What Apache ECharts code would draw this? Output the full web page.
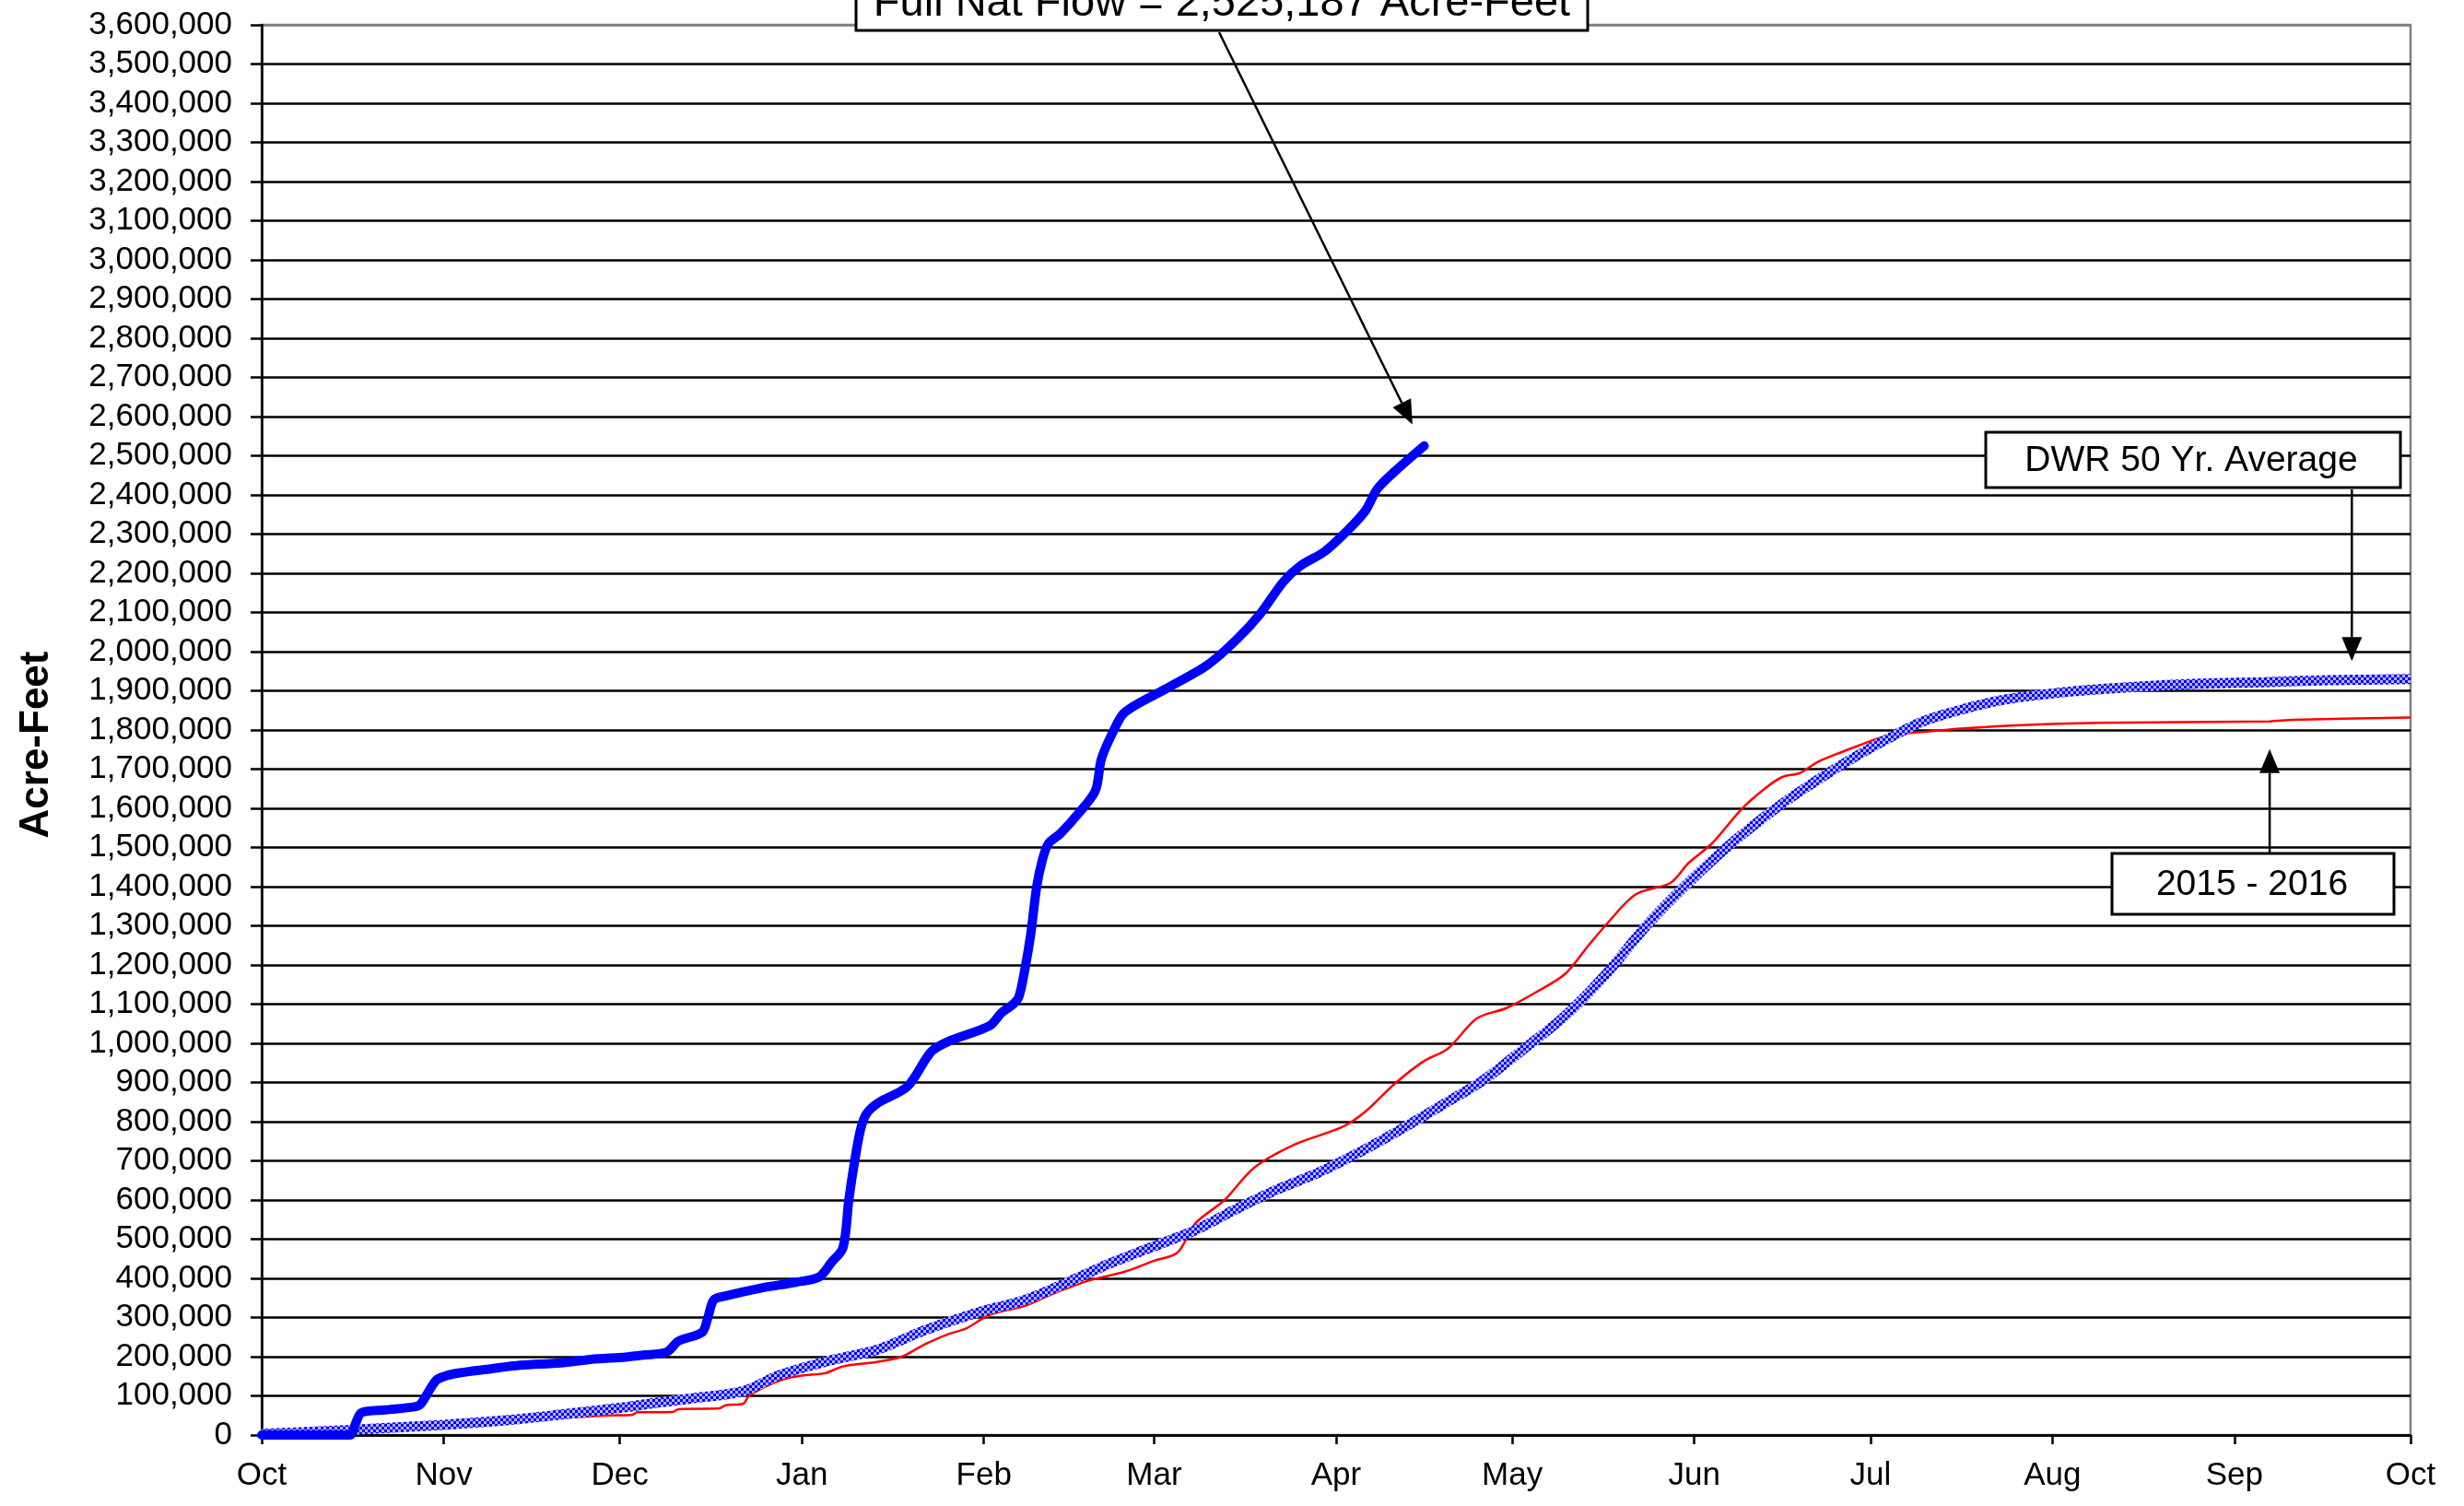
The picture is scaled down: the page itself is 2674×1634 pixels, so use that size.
<!DOCTYPE html>
<html>
<head>
<meta charset="utf-8">
<script src="https://cdn.jsdelivr.net/npm/echarts@6/dist/echarts.min.js"></script>
<style>
html,body{margin:0;padding:0;background:#fff;}
#chart{width:2674px;height:1634px;}
</style>
</head>
<body>
<div id="chart"></div>
<script>
// ---------- DATA ----------
const monthLabels = ['Jan','Feb','Mar','Apr','May','Jun','Jul','Aug','Sep','Oct','Nov','Dec'];

// Full natural flow, current year (thick solid blue)
const fullNatDates = ['2015-10-01','2015-10-16','2015-10-17','2015-10-18','2015-10-22','2015-10-27','2015-10-28','2015-10-29','2015-10-30','2015-10-31',
  '2015-11-03','2015-11-09','2015-11-14','2015-11-21','2015-11-26','2015-12-02','2015-12-05','2015-12-09','2015-12-11','2015-12-15',
  '2015-12-16','2015-12-17','2015-12-19','2015-12-25','2015-12-31','2016-01-04','2016-01-06','2016-01-08','2016-01-09','2016-01-10',
  '2016-01-11','2016-01-12','2016-01-14','2016-01-19','2016-01-23','2016-01-26','2016-02-02','2016-02-04','2016-02-06','2016-02-07',
  '2016-02-08','2016-02-09','2016-02-10','2016-02-11','2016-02-12','2016-02-14','2016-02-17','2016-02-20','2016-02-21','2016-02-23',
  '2016-02-25','2016-03-03','2016-03-10','2016-03-15','2016-03-19','2016-03-23','2016-03-26','2016-03-30','2016-04-03','2016-04-06',
  '2016-04-08','2016-04-11','2016-04-16'];
const fullNatValues = [0,0,30000,57000,64000,72000,78000,100000,125000,143000,
  157000,169000,178000,184000,193000,199000,204000,212000,240000,262000,
  300000,345000,355000,375000,390000,404000,440000,478000,600000,700000,
  780000,820000,848000,890000,978000,1005000,1045000,1078000,1100000,1120000,
  1190000,1280000,1400000,1470000,1510000,1535000,1585000,1645000,1725000,1795000,
  1845000,1905000,1965000,2030000,2095000,2178000,2220000,2255000,2310000,2360000,
  2415000,2460000,2525187];

// DWR 50 year average (checkered blue)
const avgDates = ['2015-10-01','2015-10-16','2015-11-01','2015-11-12','2015-11-22','2015-12-02','2015-12-06','2015-12-13','2015-12-22','2015-12-28',
  '2016-01-05','2016-01-14','2016-01-22','2016-01-31','2016-02-08','2016-02-16','2016-02-22','2016-03-01','2016-03-08','2016-03-15',
  '2016-03-22','2016-03-29','2016-04-05','2016-04-12','2016-04-19','2016-04-26','2016-05-03','2016-05-10','2016-05-17','2016-05-24',
  '2016-05-31','2016-06-07','2016-06-14','2016-06-19','2016-06-26','2016-07-03','2016-07-10','2016-07-17','2016-07-24','2016-08-04',
  '2016-08-15','2016-08-26','2016-09-06','2016-09-17','2016-10-01'];
const avgValues = [3000,13000,26000,38000,54000,71000,80000,93000,112000,152000,
  187000,219000,268000,313000,345000,395000,435000,482000,523000,577000,
  627000,670000,722000,780000,842000,905000,986000,1070000,1177000,1303000,
  1410000,1506000,1590000,1643000,1710000,1770000,1822000,1854000,1878000,1898000,
  1910000,1918000,1922000,1927000,1930000];

// 2015 - 2016 (thin red)
const prevDates = ['2015-10-01','2015-10-16','2015-11-01','2015-11-12','2015-11-22','2015-11-29','2015-12-03','2015-12-04','2015-12-10','2015-12-11',
  '2015-12-18','2015-12-19','2015-12-22','2015-12-23','2015-12-26','2015-12-29','2016-01-01','2016-01-05','2016-01-08','2016-01-14',
  '2016-01-18','2016-01-22','2016-01-26','2016-01-29','2016-02-02','2016-02-08','2016-02-13','2016-02-19','2016-02-25','2016-03-01',
  '2016-03-05','2016-03-08','2016-03-13','2016-03-18','2016-03-25','2016-04-02','2016-04-06','2016-04-11','2016-04-16','2016-04-20',
  '2016-04-25','2016-04-30','2016-05-05','2016-05-10','2016-05-14','2016-05-17','2016-05-22','2016-05-28','2016-05-31','2016-06-04',
  '2016-06-09','2016-06-13','2016-06-16','2016-06-19','2016-06-22','2016-06-26','2016-06-29','2016-07-04','2016-07-10','2016-07-17',
  '2016-07-26','2016-08-09','2016-09-07','2016-09-11','2016-10-01'];
const prevValues = [0,6000,19000,31000,44000,50000,51000,58000,59000,66000,
  68000,76000,80000,100000,125000,143000,152000,158000,175000,187000,
  200000,232000,258000,272000,307000,330000,362000,395000,417000,445000,
  466000,540000,600000,682000,742000,786000,826000,897000,955000,986000,
  1064000,1090000,1130000,1177000,1250000,1303000,1380000,1410000,1460000,1510000,
  1597000,1650000,1680000,1690000,1718000,1743000,1760000,1786000,1795000,1804000,
  1812000,1818000,1822000,1826000,1832000];

// ---------- HELPERS ----------
function toTime(s){ const p = s.split('-').map(Number); return new Date(p[0], p[1]-1, p[2]).getTime(); }
function zip(d, v){ return d.map((s,i)=>[toTime(s), v[i]]); }
function fmt(n){ return String(Math.round(n)).replace(/\B(?=(\d{3})+(?!\d))/g, ','); }

const FONT = '"Liberation Sans", Arial, sans-serif';

// checkered pattern for the average line
const pat = document.createElement('canvas');
pat.width = 6; pat.height = 6;
const pctx = pat.getContext('2d');
pctx.fillStyle = '#b4b4ff'; pctx.fillRect(0,0,6,6);
pctx.fillStyle = '#0000ff'; pctx.fillRect(0,0,3,3); pctx.fillRect(3,3,3,3);

const yMax = 3600000, yStep = 100000;
const splitColors = [];
for (let v = 0; v <= yMax; v += yStep) splitColors.push(v === yMax ? '#808080' : '#000000');

const chart = echarts.init(document.getElementById('chart'), null, {renderer:'canvas'});

chart.setOption({
  animation: false,
  backgroundColor: '#ffffff',
  grid: {left: 284, right: 58, top: 27, bottom: 77, show: true, borderColor: '#808080', borderWidth: 2.5, containLabel: false, outerBoundsMode: 'none'},
  xAxis: {
    type: 'time',
    min: toTime('2015-10-01'),
    max: toTime('2016-10-01'),
    splitNumber: 12,
    minInterval: 28 * 86400000,
    maxInterval: 31 * 86400000,
    axisLine: {show: true, onZero: false, lineStyle: {color: '#000', width: 2.5}},
    axisTick: {show: true, length: 10, lineStyle: {color: '#000', width: 2.5}},
    axisLabel: {
      show: true, color: '#000', fontSize: 35, fontFamily: FONT, margin: 27,
      showMinLabel: true, showMaxLabel: true, hideOverlap: false,
      formatter: function(v){ return monthLabels[new Date(v).getMonth()]; }
    },
    splitLine: {show: false}
  },
  yAxis: {
    type: 'value', min: 0, max: yMax, interval: yStep,
    name: 'Acre-Feet', nameLocation: 'middle', nameRotate: 90, nameGap: 222,
    nameTextStyle: {fontSize: 44, fontWeight: 'bold', color: '#000', fontFamily: FONT, padding: [0, 32, 0, 0]},
    axisLine: {show: true, lineStyle: {color: '#000', width: 2.5}},
    axisTick: {show: true, length: 12, lineStyle: {color: '#000', width: 2.5}},
    axisLabel: {color: '#000', fontSize: 35, fontFamily: FONT, margin: 32, formatter: fmt},
    splitLine: {show: true, lineStyle: {color: splitColors, width: 2.5}}
  },
  series: [
    {
      name: '2015 - 2016', type: 'line', data: zip(prevDates, prevValues),
      symbol: 'none', smooth: 0.3, z: 2,
      lineStyle: {color: '#ff0000', width: 2.5}
    },
    {
      name: 'DWR 50 Yr. Average', type: 'line', data: zip(avgDates, avgValues),
      symbol: 'none', smooth: 0.3, z: 3,
      lineStyle: {color: {image: pat, repeat: 'repeat'}, width: 11}
    },
    {
      name: 'Full Nat Flow', type: 'line', data: zip(fullNatDates, fullNatValues),
      symbol: 'none', smooth: 0.3, z: 4,
      lineStyle: {color: '#0000ff', width: 10, cap: 'round', join: 'round'}
    }
  ]
});

// ---------- ANNOTATIONS ----------
function arrow(x1, y1, x2, y2){
  const dx = x2 - x1, dy = y2 - y1, len = Math.hypot(dx, dy);
  const ux = dx / len, uy = dy / len, L = 26, W = 11;
  const bx = x2 - ux * L, by = y2 - uy * L;
  return [
    {type: 'line', z: 100, shape: {x1: x1, y1: y1, x2: bx, y2: by}, style: {stroke: '#000', lineWidth: 2.5}},
    {type: 'polygon', z: 100, shape: {points: [[x2, y2], [bx - uy * W, by + ux * W], [bx + uy * W, by - ux * W]]}, style: {fill: '#000'}}
  ];
}
function box(x, y, w, h, text, size, cx, cy){
  return [
    {type: 'rect', z: 100, shape: {x: x, y: y, width: w, height: h}, style: {fill: '#fff', stroke: '#000', lineWidth: 3}},
    {type: 'text', z: 101, style: {text: text, x: cx, y: cy, fill: '#000', fontSize: size, fontFamily: FONT, align: 'center', verticalAlign: 'middle'}}
  ];
}
const px = (d, v) => chart.convertToPixel({gridIndex: 0}, [toTime(d), v]);
const tipFull = px('2016-04-14', 2580000);
const tipAvg = px('2016-09-21', 1976000);
const tipPrev = px('2016-09-07', 1751000);

let els = [];
els = els.concat(arrow(1323, 35, tipFull[0], tipFull[1]));
els = els.concat(box(929, -27, 794, 60, 'Full Nat Flow = ' + fmt(fullNatValues[fullNatValues.length - 1]) + ' Acre-Feet', 47, 1326, 4));
els = els.concat(arrow(tipAvg[0], 531, tipAvg[0], tipAvg[1]));
els = els.concat(box(2155, 469, 450, 60, 'DWR 50 Yr. Average', 39, 2378, 500));
els = els.concat(arrow(tipPrev[0], 926, tipPrev[0], tipPrev[1]));
els = els.concat(box(2292, 926, 306, 66, '2015 - 2016', 39, 2444, 960));
chart.setOption({graphic: {elements: els}});
</script>
</body>
</html>
